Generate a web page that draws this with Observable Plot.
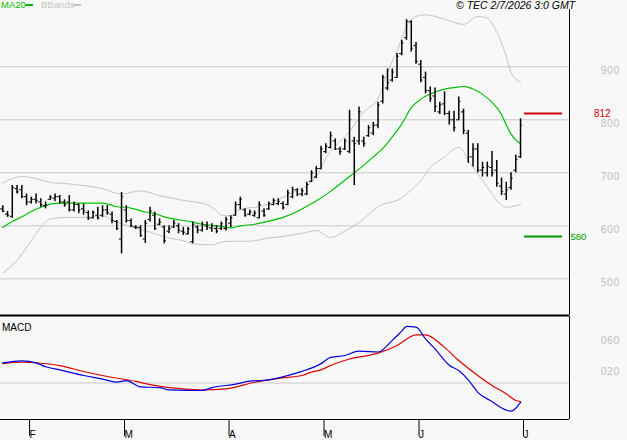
<!DOCTYPE html>
<html><head><meta charset="utf-8">
<script src="https://cdn.jsdelivr.net/npm/d3@7"></script>
<script src="https://cdn.jsdelivr.net/npm/@observablehq/plot@0.6"></script>
<style>
html,body{margin:0;padding:0;background:#f8f8f8;}
#wrap{position:relative;width:627px;height:440px;overflow:hidden;background:#f8f8f8;font-family:"Liberation Sans",Arial,sans-serif;}
#main{position:absolute;left:0;top:0;}
#macd{position:absolute;left:0;top:316px;}
.t{position:absolute;white-space:nowrap;line-height:1;}
.d{position:absolute;height:1.5px;}
</style>
</head><body>
<div id="wrap">
  <div id="main"></div>
  <div id="macd"></div>
  <div class="t" style="left:1px;top:0px;font-size:9.5px;color:#00c000;">MA20</div>
  <div class="d" style="left:25px;top:4px;width:8px;background:#00c000;"></div>
  <div class="t" style="left:41px;top:0px;font-size:9.5px;color:#c4c4c4;">BBands</div>
  <div class="d" style="left:73px;top:4px;width:8px;background:#c4c4c4;"></div>
  <div class="t" style="left:456px;top:-0.5px;font-size:10.5px;font-style:italic;color:#000;">© TEC 2/7/2026 3:0 GMT</div>
  <div class="t" style="left:2px;top:322.7px;font-size:10px;color:#000;">MACD</div>
</div>
<script>
// ---- data ----
const opens = [632,622,618,670,668,655,645,650,645,638,
 650,652,655,645,645,630,640,632,625,615,
 620,620,630,622,608,575,630,610,598,597,
 575,612,620,603,598,590,598,600,590,585,
 570,598,592,600,596,595,595,595,605,620,
 640,630,622,620,615,628,632,640,642,642,
 640,655,668,660,660,684,692,708,740,748,
 760,745,745,740,760,760,760,770,775,790,
 835,860,875,880,925,955,985,940,905,880,
 855,845,815,830,812,800,800,815,775,730,
 745,705,700,710,705,675,660,672,705,730];
const highs = [638,627,676,676,676,660,654,660,651,645,
 657,660,657,649,657,645,641,641,628,628,
 635,638,638,626,610,663,638,613,600,600,
 610,635,626,613,600,600,610,604,597,597,
 607,600,607,607,604,600,607,616,619,645,
 654,632,630,628,645,632,645,651,651,645,
 667,673,670,670,682,704,712,750,755,777,
 764,748,764,818,767,824,767,789,795,833,
 884,896,896,925,950,989,987,946,912,890,
 862,860,833,853,816,816,843,820,780,755,
 755,720,720,740,723,690,682,700,733,802];
const lows = [625,616,614,660,651,638,641,641,635,632,
 648,646,641,635,626,626,623,620,610,613,
 611,616,620,604,591,547,605,597,593,578,
 567,607,591,600,566,585,595,585,582,582,
 566,585,588,591,588,585,591,590,597,618,
 630,616,619,616,613,616,629,638,638,630,
 638,651,655,655,657,682,689,706,736,745,
 742,733,742,736,676,752,748,767,770,783,
 830,855,871,878,921,950,928,905,870,849,
 833,814,810,808,790,777,798,772,718,711,
 700,692,692,692,673,657,648,667,700,727];
const closes = [628,620,672,664,655,645,650,648,640,640,
 654,655,645,640,630,640,630,628,615,625,
 615,630,625,610,595,655,610,600,597,582,
 605,628,595,607,572,595,605,592,588,594,
 602,592,603,598,600,590,604,612,615,640,
 650,620,626,624,640,620,642,648,646,634,
 662,668,660,666,678,700,708,745,750,770,
 745,740,760,800,755,815,755,785,790,828,
 880,870,890,920,945,985,935,910,875,855,
 840,825,828,812,800,785,835,780,730,745,
 705,710,712,700,680,665,668,690,725,790];

// [bar index, value]
const ma20 = [[0,597],[2,608],[4,617],[6,627],[8,635],[10,641],[12,643],[14,643],[18,643],[21,643],[24,636],[26,635],[28,631],[30,626],[32,623],[34,617],[36,613],[38,610],[40,607],[42,603],[44,601],[46,599],[48,596],[50,600],[53,603],[56,609],[59,616],[62,627],[64,637],[66,647],[69,665],[72,686],[75,707],[78,730],[80,746],[82,768],[84,792],[86,823],[88,839],[91,852],[93,858],[96,862],[97,863],[99,858],[101,848],[103,833],[105,810],[106,790],[107,773],[109,755]];
const bbUpper = [[0,681],[4,693],[7,689],[10,682],[14,679],[21,670],[25,660],[29,666],[33,657],[38,648],[43,640],[45,628],[46,620],[48,619],[49,626],[51,633],[53,635],[56,641],[59,654],[62,667],[65,683],[67,708],[68,727],[70,750],[73,778],[76,815],[79,840],[81,890],[83,930],[85,975],[87,995],[89,998],[93,990],[97,980],[100,995],[102,992],[104,965],[106,920],[107,890],[109,871]];
const bbLower = [[0,511],[3,535],[6,572],[8,597],[10,613],[14,616],[18,616],[21,619],[23,611],[27,598],[31,588],[35,577],[38,572],[40,566],[44,564],[46,569],[48,571],[52,571],[56,577],[59,580],[63,586],[66,591],[69,578],[72,590],[75,606],[79,636],[84,653],[86,668],[88,685],[90,710],[93,730],[95,745],[96,748],[97,740],[98,723],[100,698],[102,673],[104,648],[106,635],[108,638],[109,640]];
const macdLine = [[0,26],[4,28.6],[7,26],[9,21],[12,17],[17,9.7],[21,5],[24,1],[26,3],[29,-5],[33,-6],[35,-9],[42,-9.7],[44,-6],[49,-1.5],[52,2.3],[56,4],[60,9.7],[63,15],[67,25],[69,33],[72,35.5],[75,41],[79,40],[82,55],[84,67],[85,73],[87,72],[89,57],[91,44],[94,23],[96,16],[98,4],[100,-12],[103,-24],[106,-35],[107,-36.4],[109,-25]];
const signalLine = [[0,25],[4,26.8],[8,25.5],[12,22.5],[17,14.8],[22,8.4],[28,2],[31,-2],[38,-7.5],[42,-8.8],[47,-7.5],[53,1],[58,6],[63,9.7],[65,14],[67,17],[69,22.6],[73,31],[79,38.5],[83,48.4],[87,62.2],[89,62],[93,46],[96,29],[100,9.7],[103,-3.2],[106,-14],[108,-22.6],[109,-24]];

const priceTicks = [500,600,700,800,900];
const macdTicks = [60,20];
const macdGrid = [0];
const monthTicks = [5,25,47,67,87,109];
const monthLabels = ["F","M","A","M","J","J"];
const resistance = [812];
const support = [580];

// ---- layout ----
const xDom = [-0.484, 119.31];
const yMain = [430.8, 1025.1];
const yMacd = [-47.1, 85.8];
const n = opens.length;
const bars = opens.map((o,i)=>({i, open:o, high:highs[i], low:lows[i], close:closes[i]}));
const RED = "#cc0000", GREEN = "#009900", GRID = "#c8c8c8", LAB = "#c2c2c2";

const main = Plot.plot({
  width:627, height:316, marginLeft:0, marginRight:58, marginTop:0, marginBottom:1,
  style:{background:"transparent", overflow:"visible", fontFamily:"DejaVu Sans", fontSize:"10px"},
  x:{domain:xDom, axis:null},
  y:{domain:yMain, axis:null},
  marks:[
    Plot.ruleY(priceTicks, {stroke:GRID}),
    Plot.axisY(priceTicks, {anchor:"right", tickSize:0, tickPadding:31, dy:4, fill:LAB, label:null, fontFamily:"DejaVu Sans", fontSize:10}),
    Plot.line(bbUpper, {x:d=>d[0], y:d=>d[1], stroke:"#c4c4c4", strokeWidth:1, curve:"monotone-x"}),
    Plot.line(bbLower, {x:d=>d[0], y:d=>d[1], stroke:"#c4c4c4", strokeWidth:1, curve:"monotone-x"}),
    Plot.line(ma20, {x:d=>d[0], y:d=>d[1], stroke:"#00c000", strokeWidth:1.2, curve:"monotone-x"}),
    Plot.ruleX(bars, {x:"i", y1:"low", y2:"high", stroke:"#000", strokeWidth:1.5}),
    Plot.ruleY(bars, {y:"open", x1:d=>d.i-0.45, x2:"i", stroke:"#000", strokeWidth:1}),
    Plot.ruleY(bars, {y:"close", x1:"i", x2:d=>d.i+0.45, stroke:"#000", strokeWidth:1}),
    Plot.ruleY(resistance, {y:d=>d, x1:n-0.15, x2:n+7.85, stroke:RED, strokeWidth:2}),
    Plot.ruleY(support, {y:d=>d, x1:n-0.15, x2:n+7.85, stroke:GREEN, strokeWidth:2}),
    Plot.text(resistance, {y:d=>d, text:d=>String(d), frameAnchor:"right", dx:24.5, textAnchor:"start", fill:RED, fontSize:10, fontFamily:"Liberation Sans"}),
    Plot.text(support, {y:d=>d, text:d=>String(d), frameAnchor:"right", dx:1, dy:0.5, textAnchor:"start", fill:GREEN, fontSize:9.5, fontFamily:"Liberation Sans"}),
    Plot.ruleY([yMain[0]], {stroke:"#000", strokeWidth:2}),
    Plot.ruleX([xDom[1]], {stroke:"#000", strokeWidth:1, insetTop:9})
  ]
});
document.getElementById("main").appendChild(main);

const macd = Plot.plot({
  width:627, height:124, marginLeft:0, marginRight:58, marginTop:0, marginBottom:21,
  style:{background:"transparent", overflow:"visible", fontFamily:"Liberation Sans", fontSize:"10px"},
  x:{domain:xDom, axis:null},
  y:{domain:yMacd, axis:null},
  marks:[
    Plot.ruleY(macdGrid, {stroke:GRID}),
    Plot.axisY(macdTicks, {anchor:"right", tickSize:0, tickPadding:31, dy:4, fill:LAB, label:null, tickFormat:d3.format("03d"), fontFamily:"DejaVu Sans", fontSize:10}),
    Plot.line(signalLine, {x:d=>d[0], y:d=>d[1], stroke:"#dd0000", strokeWidth:1.2, curve:"monotone-x"}),
    Plot.line(macdLine, {x:d=>d[0], y:d=>d[1], stroke:"#0000dd", strokeWidth:1.2, curve:"monotone-x"}),
    Plot.axisX(monthTicks, {anchor:"bottom", tickSize:17, tickPadding:-6, textAnchor:"start", dx:3, fill:"#000", label:null,
      tickFormat:d=>monthLabels[monthTicks.indexOf(d)], fontFamily:"Liberation Sans", fontSize:10}),
    Plot.ruleY([yMacd[0]], {stroke:"#000", strokeWidth:1}),
    Plot.ruleX([xDom[1]], {stroke:"#000", strokeWidth:1})
  ]
});
document.getElementById("macd").appendChild(macd);
</script>
</body></html>
